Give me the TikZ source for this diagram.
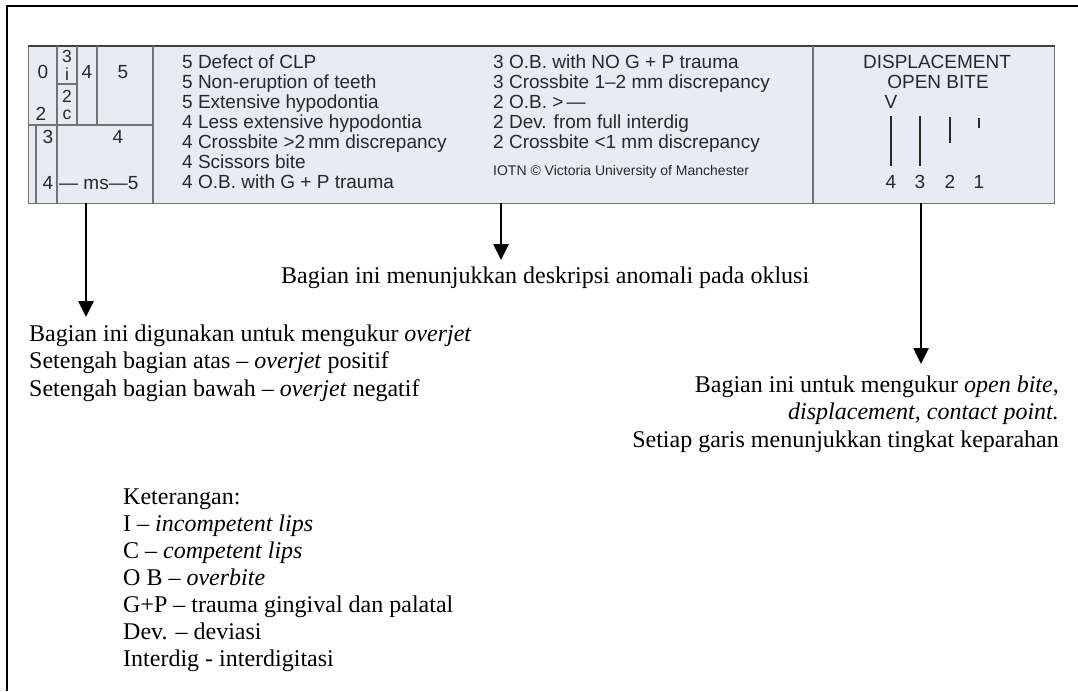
\documentclass[tikz,border=0pt]{standalone}
\usepackage{fontspec}
\setmainfont{Liberation Serif}
\newfontfamily\sansf{Liberation Sans}
\usetikzlibrary{arrows.meta}
\definecolor{boxfill}{RGB}{231,235,244}
\definecolor{boxline}{RGB}{115,115,115}
\definecolor{boxtext}{RGB}{40,40,40}
\begin{document}
\begin{tikzpicture}[x=1pt,y=-1pt,
  sf/.style={font=\sansf\fontsize{19}{20}\selectfont, text=boxtext, inner sep=0pt},
  sfs/.style={font=\sansf\fontsize{17.5}{18}\selectfont, text=boxtext, inner sep=0pt},
  sfl/.style={sf, anchor=base west},
  sfb/.style={sf, anchor=base},
  smallsf/.style={font=\sansf\fontsize{14}{15}\selectfont, text=boxtext, inner sep=0pt, anchor=base west},
  rm/.style={font=\fontsize{24}{27}\selectfont, inner sep=0pt},
  rml/.style={rm, anchor=base west},
  rmr/.style={rm, anchor=base east},
  gridline/.style={draw=boxline, line width=1.5pt},
  pointer/.style={-{Triangle[width=15pt,length=16pt]}, line width=2.6pt},
  bar/.style={line width=2.6pt, draw=boxtext},
]
\useasboundingbox (0,0) rectangle (1078,691);
% outer frame (cut at right and bottom)
\draw[line width=2pt] (7,691) -- (7,6) -- (1078,6);
% IOTN scale box
\node[draw=boxline, fill=boxfill, line width=1.2pt, minimum width=1026pt, minimum height=157pt, anchor=north west, inner sep=0pt] (scalebox) at (28,46) {};
\draw[draw=black!75, line width=1.4pt] (scalebox.north west) -- (scalebox.north east);
% ruler grid
\draw[gridline] (57,46) -- (57,203);
\draw[gridline] (77,46) -- (77,125);
\draw[gridline] (97,46) -- (97,125);
\draw[gridline] (57,84) -- (77,84);
\draw[gridline] (28,125) -- (153,125);
\draw[gridline] (36,125) -- (36,203);
\draw[gridline] (153,46) -- (153,203);
\draw[gridline] (813,46) -- (813,203);
% ruler labels
\node[sf] (r0) at (43,72) {0};
\node[sfs] (r3i) at (67,56) {3};
\node[sfs] (ri) at (67,74) {i};
\node[sfs] (r2c) at (67,96) {2};
\node[sfs] (rc) at (67,115) {c};
\node[sf] (r4a) at (87,72) {4};
\node[sf] (r5a) at (123,72) {5};
\node[sf] (r2) at (41,114) {2};
\node[sf] (r3) at (48,137) {3};
\node[sf] (r4b) at (118,137) {4};
\node[sf] (r4c) at (48,183) {4};
\node[sf, anchor=west] (rms) at (59,183) {— ms—5};
% description column 1
\node[sfl] (d1) at (182,68) {5 Defect of CLP};
\node[sfl] (d2) at (182,88) {5 Non-eruption of teeth};
\node[sfl] (d3) at (182,108) {5 Extensive hypodontia};
\node[sfl] (d4) at (182,128) {4 Less extensive hypodontia};
\node[sfl] (d5) at (182,148) {4 Crossbite >2\,mm discrepancy};
\node[sfl] (d6) at (182,168) {4 Scissors bite};
\node[sfl] (d7) at (182,188) {4 O.B. with G + P trauma};
% description column 2
\node[sfl] (e1) at (493,68) {3 O.B. with NO G + P trauma};
\node[sfl] (e2) at (493,88) {3 Crossbite 1–2 mm discrepancy};
\node[sfl] (e3) at (493,108) {2 O.B. >\,—};
\node[sfl] (e4) at (493,128) {2 Dev. from full interdig};
\node[sfl] (e5) at (493,148) {2 Crossbite <1 mm discrepancy};
\node[smallsf] (copy) at (493,175) {IOTN © Victoria University of Manchester};
% displacement / open bite
\node[sfb] (disp) at (937,68) {DISPLACEMENT};
\node[sfb] (ob) at (938,88) {OPEN BITE};
\node[sfb] (vv) at (891,108) {V};
\draw[bar] (891,116) -- (891,166);
\draw[bar] (920,116) -- (920,166);
\draw[bar] (950,117) -- (950,143);
\draw[bar] (979,118) -- (979,128);
\node[sfb] (n4) at (891,188) {4};
\node[sfb] (n3) at (920,188) {3};
\node[sfb] (n2) at (950,188) {2};
\node[sfb] (n1) at (979,188) {1};
% explanatory texts
\node[rml] (mid) at (281,283) {Bagian ini menunjukkan deskripsi anomali pada oklusi};
\node[rml] (left1) at (29,341) {Bagian ini digunakan untuk mengukur \textit{overjet}};
\node[rml] (left2) at (29,368.5) {Setengah bagian atas – \textit{overjet} positif};
\node[rml] (left3) at (29,396) {Setengah bagian bawah – \textit{overjet} negatif};
\node[rmr] (right1) at (1059,392) {Bagian ini untuk mengukur \textit{open bite},};
\node[rmr] (right2) at (1059,419.5) {\textit{displacement, contact point.}};
\node[rmr] (right3) at (1059,447) {Setiap garis menunjukkan tingkat keparahan};
% arrows
\coordinate (la) at (86,203); \coordinate (lb) at (86,317);
\coordinate (ma) at (501,203); \coordinate (mb) at (501,260);
\coordinate (ra) at (921,203); \coordinate (rb) at (921,364);
\draw[pointer] (la) -- (lb);
\draw[pointer] (ma) -- (mb);
\draw[pointer] (ra) -- (rb);
% legend
\node[rml] (k0) at (123,504) {Keterangan:};
\node[rml] (k1) at (123,531) {I – \textit{incompetent lips}};
\node[rml] (k2) at (123,558) {C – \textit{competent lips}};
\node[rml] (k3) at (123,585) {O B – \textit{overbite}};
\node[rml] (k4) at (123,612) {G+P – trauma gingival dan palatal};
\node[rml] (k5) at (123,639) {Dev. – deviasi};
\node[rml] (k6) at (123,666) {Interdig - interdigitasi};
\end{tikzpicture}
\end{document}
